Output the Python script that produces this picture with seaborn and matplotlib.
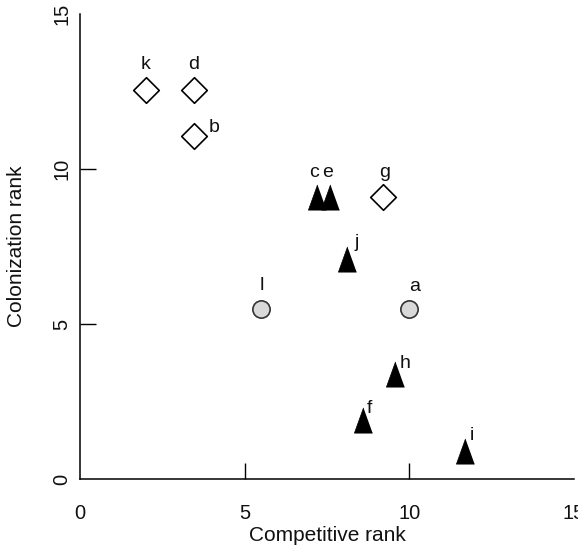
import matplotlib
matplotlib.use("Agg")
import matplotlib.pyplot as plt
import seaborn as sns
import pandas as pd

# Species ranks
species = ['a', 'b', 'c', 'd', 'e', 'f', 'g', 'h', 'i', 'j', 'k', 'l']
competitive_rank = [10.0, 3.45, 7.2, 3.45, 7.6, 8.6, 9.2, 9.55, 11.7, 8.1, 2.0, 5.5]
colonization_rank = [5.5, 11.05, 9.1, 12.55, 9.1, 1.9, 9.1, 3.4, 0.9, 7.1, 12.55, 5.5]
strategy = ['intermediate', 'colonizer', 'competitor', 'colonizer', 'competitor',
            'competitor', 'colonizer', 'competitor', 'competitor', 'competitor',
            'colonizer', 'intermediate']
x_ticks = [0, 5, 10, 15]
y_ticks = [0, 5, 10, 15]

df = pd.DataFrame({
    'species': species,
    'competitive': competitive_rank,
    'colonization': colonization_rank,
    'strategy': strategy,
})

sns.set_theme(style="ticks")
plt.rcParams['font.family'] = ['Liberation Sans', 'DejaVu Sans']

fig = plt.figure(figsize=(5.78, 5.48), dpi=100)
ax = fig.add_axes([80 / 578, 69 / 548, 494 / 578, 465 / 548])

# tall narrow triangle
tri = [(0, 1), (-0.72, -1), (0.72, -1)]
styles = {
    'colonizer': dict(marker='D', s=170, color='white', edgecolor='black', linewidth=1.2),
    'competitor': dict(marker=tri, s=330, color='black', edgecolor='black', linewidth=0.5),
    'intermediate': dict(marker='o', s=155, color='#d9d9d9', edgecolor='#333333', linewidth=1.2),
}
for name, kw in styles.items():
    sub = df[df['strategy'] == name]
    sns.scatterplot(data=sub, x='competitive', y='colonization', ax=ax,
                    legend=False, clip_on=False, zorder=3, **kw)

# letter labels next to each point (offsets in points)
label_offsets = {
    'a': (4, 16), 'b': (14.5, 6.5), 'c': (-2.5, 17.5), 'd': (0, 18),
    'e': (-2, 17.5), 'f': (4.5, 8), 'g': (1.5, 17.5), 'h': (7.5, 7),
    'i': (4.5, 11.5), 'j': (7, 11.5), 'k': (0, 18), 'l': (0.5, 16.5),
}
for sp, xv, yv in zip(species, competitive_rank, colonization_rank):
    ax.annotate(sp, (xv, yv), xytext=label_offsets[sp], textcoords='offset points',
                ha='center', va='center', fontsize=14, color='#111111')

ax.set_xlim(0, 15)
ax.set_ylim(0, 15)
ax.set_xticks(x_ticks)
ax.set_yticks(y_ticks)
ax.set_xticklabels([str(t) for t in x_ticks], fontsize=14.5, color='#111111')
ax.set_yticklabels([str(t) for t in y_ticks], fontsize=14.5, color='#111111',
                   rotation=90, va='center')
ax.tick_params(axis='both', direction='in', length=11.5, width=1.0, color='black')
ax.tick_params(axis='x', pad=18)
ax.tick_params(axis='y', pad=6)
for axis in (ax.xaxis, ax.yaxis):
    ticks = axis.get_major_ticks()
    ticks[0].tick1line.set_visible(False)
    ticks[-1].tick1line.set_visible(False)

for side in ('top', 'right'):
    ax.spines[side].set_visible(False)
for side in ('left', 'bottom'):
    ax.spines[side].set_color('black')
    ax.spines[side].set_linewidth(1.1)

ax.set_xlabel('Competitive rank', fontsize=15, color='#111111')
ax.set_ylabel('Colonization rank', fontsize=15, color='#111111')
ax.xaxis.set_label_coords(0.5, -0.101)
ax.yaxis.set_label_coords(-0.109, 0.5)
ax.grid(False)

fig.savefig('out.png', dpi=100)
